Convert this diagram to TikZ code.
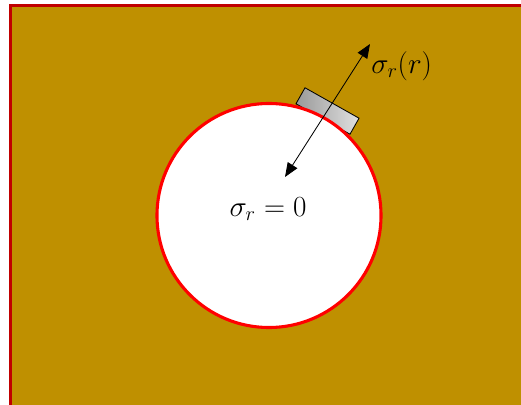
\documentclass[tikz,border=0pt]{standalone}
\usepackage{amsmath,amssymb}
\usepackage{tikz}
\usetikzlibrary{arrows.meta,positioning,shapes.geometric,calc}
\usepackage{xcolor}
\definecolor{rock}{RGB}{191,144,0}
\definecolor{rockedge}{RGB}{192,0,0}
\definecolor{holeedge}{RGB}{255,0,0}

\begin{document}
\begin{tikzpicture}[x=0.025cm,y=-0.025cm,
    hole/.style={circle,draw=holeedge,fill=white,line width=2.2pt,minimum size=5.6cm,inner sep=0pt},
    gauge/.style={draw=black,line width=0.6pt,left color=black!40,right color=black!12,minimum width=1.55cm,minimum height=0.46cm,inner sep=0pt,rotate=-29.4},
    stress/.style={font=\fontsize{22.5}{27}\selectfont,inner sep=0pt}]
    \useasboundingbox (0,0) rectangle (521,405);
    \clip (0,0) rectangle (521,405);
    % surrounding rock
    \draw[fill=rock,draw=rockedge,line width=2.1pt] (10.5,5.5) rectangle (540,420);
    % strain gauge on the wall
    \node[gauge] (gauge) at (327.5,111) {};
    % borehole
    \node[hole] (hole) at (269,215.5) {};
    \node[stress] (inner) at (268,209) {$\sigma_r = 0$};
    % radial stress arrow
    \coordinate (tipin) at (285,177);
    \coordinate (tipout) at (370,44);
    \draw[{Triangle[length=10pt,width=8pt]}-{Triangle[length=10pt,width=8pt]},line width=0.6pt] (tipin) -- (tipout);
    \node[stress,anchor=west] (outer) at ($(tipout)+(1,22)$) {$\sigma_r(r)$};
\end{tikzpicture}
\end{document}
